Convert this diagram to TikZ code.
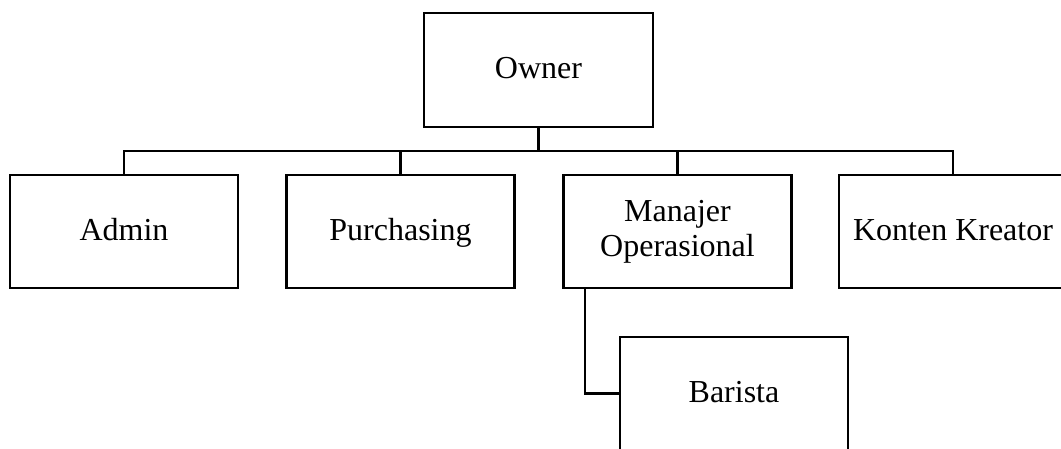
\documentclass[tikz,border=0pt]{standalone}
\usepackage{fontspec}
\setmainfont{Liberation Serif}
\begin{document}
\begin{tikzpicture}[x=1pt,y=-1pt,
  box/.style={draw=black, line width=2.5pt, fill=white, minimum width=228pt, minimum height=113pt, inner sep=0pt, outer sep=0pt, align=center, font=\fontsize{32}{35}\selectfont},
  onebox/.style={box, text height=21pt, text depth=3pt},
  conn/.style={draw=black, line width=2.5pt}]
\useasboundingbox (0,0) rectangle (1061,449);
\clip (0,0) rectangle (1061,449);
\node[onebox, minimum width=229pt, minimum height=114pt] (owner) at (538.5,70) {Owner};
\node[onebox] (admin) at (124,231.5) {Admin};
\node[onebox] (purch) at (400.5,231.5) {Purchasing};
\node[box] (manajer) at (677.5,231.5) {Manajer\\Operasional};
\node[onebox] (konten) at (953,231.5) {Konten Kreator};
\node[onebox] (barista) at (734,393.5) {Barista};
\coordinate (bus) at (0,151);
\draw[conn] (owner.south) -- (owner.south |- bus);
\draw[conn] (admin.north) -- (admin.north |- bus) -| (konten.north);
\draw[conn] (purch.north) -- (purch.north |- bus);
\draw[conn] (manajer.north) -- (manajer.north |- bus);
\draw[conn] ([xshift=-92.5pt]manajer.south) |- (barista.west);
\end{tikzpicture}
\end{document}
